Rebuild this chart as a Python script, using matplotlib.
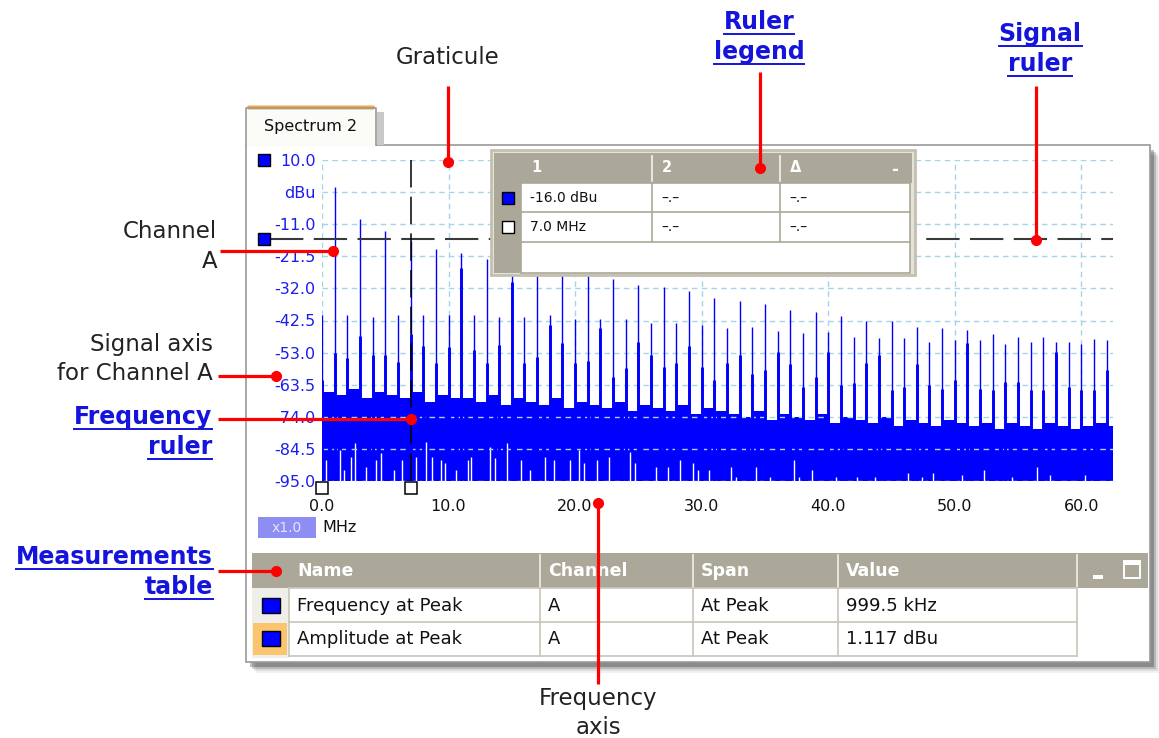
import numpy as np
import matplotlib
matplotlib.use('Agg')
import matplotlib.pyplot as plt
from matplotlib.patches import Rectangle, FancyBboxPatch

plt.rcParams['font.family'] = ['DejaVu Sans']

# --- spectrum: one line per 1 MHz harmonic (dBu) ---
harm_mhz = np.arange(0, 63)
peak_dbu = [-40.7, 1.1, -40.7, -9.4, -41.3, -13.1, -40.7, -16.5, -40.7, -19.2,
            -40.7, -20.5, -40.7, -22.3, -41.3, -24.0, -41.5, -25.5, -40.8, -26.5,
            -42.1, -27.5, -42.1, -29.0, -42.1, -31.0, -43.2, -31.6, -43.2, -32.8,
            -44.0, -35.2, -45.1, -36.0, -44.5, -37.1, -45.8, -39.1, -46.5, -39.6,
            -46.4, -40.9, -47.8, -42.7, -48.3, -42.7, -48.3, -44.5, -49.4, -45.1,
            -48.9, -45.6, -48.9, -47.0, -50.2, -47.8, -49.4, -47.8, -49.4, -49.4,
            -50.2, -48.7, -48.9]
# level where each line widens (leakage skirt)
skirt_dbu = [-62.0, -53.1, -54.8, -47.6, -53.8, -53.8, -56.0, -47.0, -51.0, -56.3,
             -51.3, -25.3, -52.0, -56.5, -50.5, -30.0, -56.3, -54.3, -44.0, -50.0,
             -56.5, -55.7, -45.1, -60.9, -58.1, -49.4, -53.8, -57.6, -56.3, -50.8,
             -57.6, -61.8, -56.3, -53.8, -60.0, -58.7, -52.7, -56.7, -64.2, -60.9,
             -52.7, -63.6, -63.1, -56.3, -53.8, -65.2, -64.2, -56.7, -63.6, -65.0,
             -61.8, -50.0, -65.0, -65.2, -62.5, -62.5, -65.2, -65.2, -52.7, -64.2,
             -65.2, -65.2, -58.7]
# top of the solid noise band, per 1 MHz bin
floor_dbu = [-66, -67, -65, -68, -66, -67, -68, -66, -69, -67, -68,
             -68, -69, -67, -70, -68, -69, -70, -68, -71, -69,
             -70, -71, -69, -72, -70, -71, -72, -70, -73, -71,
             -72, -73, -74, -72, -75, -73, -74, -75, -73, -76,
             -74, -75, -76, -74, -77, -75, -76, -77, -75, -76,
             -77, -76, -78, -76, -77, -78, -76, -77, -78, -77, -76, -77]
# white gaps in the noise floor
notch_mhz = [0.3, 1.4, 1.7, 2.3, 2.6, 3.5, 4.3, 4.7, 5.7, 6.3, 7.4, 8.2, 8.7, 9.4, 9.7,
             10.6, 11.5, 11.8, 13.3, 13.7, 14.6, 15.7, 16.4, 17.6, 18.3, 19.6, 20.3,
             20.7, 21.7, 22.7, 24.3, 24.7, 26.4, 27.3, 28.3, 29.3, 29.7, 30.6, 32.3,
             32.7, 34.3, 35.4, 37.3, 37.7, 38.7, 40.6, 42.3, 43.7, 46.3, 47.4, 48.3,
             50.6, 52.3, 54.5, 56.5, 57.5, 60.3]
notch_dbu = [-88.1, -84.9, -91.4, -87.0, -82.7, -90.3, -88.1, -86.0, -91.4, -88.1,
             -87.0, -82.1, -87.0, -88.1, -89.2, -91.4, -88.1, -87.0, -83.8, -87.6,
             -82.7, -88.1, -91.4, -87.0, -88.1, -88.1, -84.9, -89.2, -88.1, -87.0,
             -85.4, -89.2, -90.3, -90.3, -88.1, -89.2, -91.4, -91.4, -90.3, -93.6,
             -90.3, -93.6, -88.1, -93.6, -91.4, -93.6, -93.6, -93.6, -92.5, -93.6,
             -92.5, -93.0, -91.4, -93.6, -90.3, -93.0, -93.0]

y_ticks = [10.0, -0.5, -11.0, -21.5, -32.0, -42.5, -53.0, -63.5, -74.0, -84.5, -95.0]
y_ticklabels = ['10.0', 'dBu', '-11.0', '-21.5', '-32.0', '-42.5', '-53.0',
                '-63.5', '-74.0', '-84.5', '-95.0']
x_ticks = [0, 10, 20, 30, 40, 50, 60]
x_max = 62.5
signal_ruler_dbu = -16.0
freq_ruler_mhz = [0.0, 7.0]   # ruler 2 parked at 0, ruler 1 at 7 MHz

legend_header = ['1', '2', 'Δ']
legend_rows = [['-16.0 dBu', '–.–', '–.–'], ['7.0 MHz', '–.–', '–.–']]
meas_cols = ['Name', 'Channel', 'Span', 'Value']
meas_rows = [['Frequency at Peak', 'A', 'At Peak', '999.5 kHz'],
             ['Amplitude at Peak', 'A', 'At Peak', '1.117 dBu']]

BLUE = '#0000ff'
AXBLUE = '#1c1cf0'
LINK = '#1414dc'
RED = '#ff0000'
XPGRAY = '#aca899'

W, H = 1159, 738
fig = plt.figure(figsize=(W / 100, H / 100), dpi=100)


def px_axes(z):
    ax = fig.add_axes([0, 0, 1, 1], zorder=z)
    ax.set_xlim(0, W)
    ax.set_ylim(H, 0)
    ax.axis('off')
    return ax


bg = px_axes(0)
spec = fig.add_axes([322 / W, 1 - 481 / H, 791 / W, 321 / H], zorder=1)
fg = px_axes(2)

# --- window chrome ---
for i, a in enumerate([0.24, 0.16, 0.09, 0.05]):
    bg.add_patch(Rectangle((250 + 2 * i, 150 + 2 * i), 904, 517, fc='k', alpha=a, ec='none'))
bg.add_patch(Rectangle((246, 145), 904, 517, fc='white', ec='#9a9a9a', lw=1.2))
bg.add_patch(Rectangle((377, 112), 7, 33, fc='#c8c8c8', ec='none'))
bg.add_patch(Rectangle((246, 107), 130, 39.5, fc='#fbfbf8', ec='none'))
bg.plot([246, 246, 376, 376], [146, 108, 108, 145], color='#9a9a9a', lw=1.2)
bg.add_patch(FancyBboxPatch((247, 105.5), 128, 4, boxstyle='round,pad=0,rounding_size=2',
                            fc='#f2a93b', ec='none'))
bg.text(311, 127, 'Spectrum 2', ha='center', va='center', fontsize=11.5, color='#111')

# --- spectrum ---
spec.set_xlim(0, x_max)
spec.set_ylim(-95, 10)
for s in spec.spines.values():
    s.set_visible(False)
edges = np.append(harm_mhz, x_max)
spec.stairs(floor_dbu, edges, baseline=-95, fill=True, color=BLUE, zorder=1)
spec.vlines(notch_mhz, -95, notch_dbu, color='white', lw=1.0, zorder=1.5)
spec.vlines(harm_mhz, -95, skirt_dbu, color=BLUE, lw=2.1, zorder=3)
spec.vlines(harm_mhz, -95, peak_dbu, color=BLUE, lw=1.0, zorder=3)
spec.set_xticks(x_ticks)
spec.set_xticklabels([f'{v:.1f}' for v in x_ticks])
spec.set_yticks(y_ticks)
spec.set_yticklabels(y_ticklabels)
spec.tick_params(axis='y', length=0, pad=4.5, labelsize=11.5, labelcolor=AXBLUE)
spec.tick_params(axis='x', length=0, pad=13, labelsize=11.5, labelcolor='#111')
spec.grid(True, color='#a6d6e6', lw=1.0, ls=(0, (4, 3)))
spec.set_axisbelow(False)


def to_px(x, y):
    dx, dy = spec.transData.transform((x, y))
    return dx, H - dy


# --- rulers ---
_, y_sig = to_px(0, signal_ruler_dbu)
x_right, y_top = to_px(x_max, 10)
_, y_bot = to_px(0, -95)
fg.plot([270, x_right], [y_sig, y_sig], color='#3a3a3a', lw=1.5, dashes=(16, 5), zorder=3)
fg.add_patch(Rectangle((258, y_sig - 6), 12, 12, fc=BLUE, ec='k', lw=1, zorder=4))
fg.add_patch(Rectangle((258, y_top - 6), 12, 12, fc=BLUE, ec='k', lw=1, zorder=4))
x_fr, _ = to_px(freq_ruler_mhz[1], 0)
fg.plot([x_fr, x_fr], [y_top, y_bot], color='k', lw=1.1, dashes=(18, 6), zorder=3)
for f in freq_ruler_mhz:
    xf, _ = to_px(f, 0)
    fg.add_patch(Rectangle((xf - 6, y_bot + 1), 12, 12, fc='white', ec='k', lw=1.1, zorder=4))

# x-scale box
fg.add_patch(Rectangle((258, 517), 58, 21, fc='#8e8ef2', ec='none'))
fg.text(287, 528, 'x1.0', ha='center', va='center', fontsize=10, color='#e4e4ff')
fg.text(322, 528, 'MHz', ha='left', va='center', fontsize=11.5, color='#111')

# --- ruler legend ---
fg.add_patch(Rectangle((491, 150), 424, 125, fc='#e6e3d6', ec='#c4c0b0', lw=2, zorder=5))
fg.add_patch(Rectangle((494, 153), 418, 30, fc=XPGRAY, ec='none', zorder=5))
fg.add_patch(Rectangle((494, 183), 27, 90, fc=XPGRAY, ec='none', zorder=5))
fg.add_patch(Rectangle((521, 183), 389, 90, fc='white', ec=XPGRAY, lw=1.2, zorder=5))
leg_cols = [521, 652, 780]
for y in [212, 242]:
    fg.plot([521, 910], [y, y], color=XPGRAY, lw=1.2, zorder=6)
for x in leg_cols[1:]:
    fg.plot([x, x], [183, 242], color=XPGRAY, lw=1.2, zorder=6)
    fg.plot([x, x], [156, 181], color='#f4f4f0', lw=1.2, zorder=6)
for x, s in zip(leg_cols, legend_header):
    fg.text(x + 10, 168, s, ha='left', va='center', fontsize=10.5, color='white',
            fontweight='bold', zorder=6)
fg.text(895, 170, '-', ha='center', va='center', fontsize=12, color='white',
        fontweight='bold', zorder=6)
for r, (row, y) in enumerate(zip(legend_rows, [198, 227])):
    fg.add_patch(Rectangle((502, y - 6), 12, 12, fc=BLUE if r == 0 else 'white',
                           ec='k', lw=1, zorder=6))
    for x, s in zip(leg_cols, row):
        fg.text(x + 9, y, s, ha='left', va='center', fontsize=10, color='#111', zorder=6)

# --- measurements table ---
fg.add_patch(Rectangle((252, 553), 896, 35, fc=XPGRAY, ec='none'))
fg.add_patch(Rectangle((252, 588), 37, 70, fc='#efeee8', ec='none'))
meas_x = [289, 540, 693, 838, 1077]
for x in meas_x[1:]:
    fg.plot([x, x], [555, 587], color='#f0f0ea', lw=1.2)
for x, s in zip(meas_x, meas_cols):
    fg.text(x + 8, 571, s, ha='left', va='center', fontsize=12.5, color='white',
            fontweight='bold')
fg.add_patch(Rectangle((1093, 575), 10, 4, fc='white', ec='none'))
fg.add_patch(Rectangle((1124, 561), 16, 17, fc='none', ec='white', lw=1.4))
fg.add_patch(Rectangle((1124, 561), 16, 4, fc='white', ec='none'))
fg.add_patch(Rectangle((253, 623), 34, 32, fc='#fbc46e', ec='none'))
for r, (row, y) in enumerate(zip(meas_rows, [606, 639])):
    fg.add_patch(Rectangle((262, y - 8), 18, 15, fc=BLUE, ec='k', lw=1))
    for x, s in zip(meas_x, row):
        fg.text(x + 8, y, s, ha='left', va='center', fontsize=13, color='#111')
for y in [588, 622, 656]:
    fg.plot([289, 1077], [y, y], color='#c9c5b8', lw=1.2)
for x in meas_x:
    fg.plot([x, x], [588, 656], color='#c9c5b8', lw=1.2)

# --- call-outs ---
plain = [(448, 57, 'center', 'Graticule'),
         (217, 232, 'right', 'Channel'), (217, 262, 'right', 'A'),
         (213, 344, 'right', 'Signal axis'), (213, 373, 'right', 'for Channel A'),
         (598, 698, 'center', 'Frequency'), (598, 727, 'center', 'axis')]
for x, y, ha, s in plain:
    fg.text(x, y, s, ha=ha, va='center', fontsize=16.5, color='#222', zorder=8)
links = [(759, 22, 'center', 'Ruler'), (759, 52, 'center', 'legend'),
         (1040, 34, 'center', 'Signal'), (1040, 64, 'center', 'ruler'),
         (212, 417, 'right', 'Frequency'), (212, 447, 'right', 'ruler'),
         (213, 557, 'right', 'Measurements'), (213, 587, 'right', 'table')]
link_txt = [fg.text(x, y, s, ha=ha, va='center', fontsize=17, color=LINK,
                    fontweight='bold', zorder=8) for x, y, ha, s in links]

callouts = [((448, 86), (448, 162)), ((760, 72), (760, 168)),
            ((1036, 86), (1036, 240)), ((220, 251), (333, 251)),
            ((218, 376), (276, 376)), ((218, 419), (411, 419)),
            ((218, 571), (276, 571)), ((598, 684), (598, 503))]
for (x0, y0), (x1, y1) in callouts:
    fg.plot([x0, x1], [y0, y1], color=RED, lw=2.3, zorder=9, solid_capstyle='butt')
    fg.plot([x1], [y1], marker='o', ms=7, color=RED, zorder=9)

fig.canvas.draw()
rend = fig.canvas.get_renderer()
for t in link_txt:
    bb = t.get_window_extent(rend)
    fg.plot([bb.x0, bb.x1], [H - bb.y0, H - bb.y0], color=LINK, lw=1.4, zorder=8)

fig.savefig('out.png', dpi=100, facecolor='white')
